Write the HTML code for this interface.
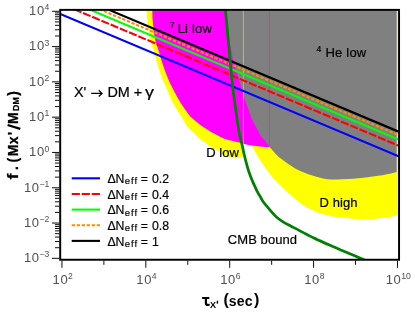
<!DOCTYPE html>
<html><head><meta charset="utf-8"><style>
html,body{margin:0;padding:0;background:#fff;}
svg{display:block;font-family:"Liberation Sans",sans-serif;will-change:transform;}
</style></head><body>
<svg width="415" height="316" viewBox="0 0 415 316">
<rect width="415" height="316" fill="#fff"/>
<defs><clipPath id="c"><rect x="60.2" y="9.87" width="338.85" height="249.88"/></clipPath></defs>
<g clip-path="url(#c)">
<path d="M146.5,9.9 C146.6,11.5 146.9,16.7 147.2,19.5 C147.4,22.3 147.6,24.3 148.0,26.7 C148.4,29.1 148.8,31.4 149.4,34.0 C150.0,36.6 150.6,39.9 151.3,42.6 C152.0,45.3 152.7,47.6 153.4,50.0 C154.1,52.4 154.9,54.8 155.6,57.2 C156.3,59.6 156.9,62.1 157.6,64.5 C158.3,66.9 159.0,69.3 159.8,71.7 C160.6,74.1 161.4,76.5 162.4,78.9 C163.4,81.3 164.7,83.9 165.6,86.1 C166.5,88.3 167.1,89.8 168.0,92.0 C168.9,94.2 170.2,96.8 171.3,99.2 C172.5,101.6 173.5,104.1 174.9,106.5 C176.3,108.9 178.0,111.3 179.5,113.7 C181.0,116.1 182.4,118.5 183.9,120.9 C185.4,123.3 186.7,125.9 188.6,128.1 C190.5,130.3 193.4,132.5 195.3,134.3 C197.2,136.1 198.5,137.6 200.2,139.0 C201.9,140.4 204.2,142.0 205.6,143.0 C206.9,144.0 206.8,144.0 208.3,145.0 C209.9,146.0 212.8,147.8 214.9,149.0 C217.0,150.2 218.6,150.9 221.0,152.2 C223.4,153.5 227.2,155.9 229.5,156.9 C231.8,157.9 233.1,158.0 234.8,158.2 C236.6,158.3 238.7,158.2 240.0,157.8 C241.3,157.4 242.0,156.6 242.7,155.5 C243.4,154.4 243.8,153.1 244.0,151.0 C244.2,148.9 244.0,144.3 244.0,143.0 L244.0,9.87 Z" fill="#ffff00"/>
<path d="M252.2,146.0 C252.9,147.4 254.8,151.5 256.6,154.6 C258.4,157.7 260.8,161.4 262.8,164.3 C264.8,167.2 266.5,169.7 268.5,172.2 C270.5,174.7 272.5,177.1 274.7,179.5 C276.9,181.9 279.0,184.3 281.5,186.7 C284.0,189.1 287.2,191.9 289.5,193.9 C291.8,195.9 292.9,196.9 295.0,198.7 C297.1,200.5 299.8,202.8 302.2,204.5 C304.6,206.2 307.1,207.6 309.5,208.8 C311.9,210.1 314.3,211.0 316.7,212.0 C319.1,213.0 321.5,213.9 323.9,214.6 C326.3,215.3 328.7,215.6 331.1,216.0 C333.5,216.4 336.0,216.9 338.4,217.2 C340.8,217.5 342.1,217.7 345.6,218.0 C349.1,218.3 354.8,219.2 359.5,219.3 C364.2,219.5 369.1,219.3 373.9,218.9 C378.7,218.5 384.9,217.5 388.4,217.0 C391.9,216.5 393.4,216.3 394.9,216.0 C396.4,215.7 397.0,215.3 397.4,215.2 L397.45,9.87 L252.2,9.87 Z" fill="#ffff00"/>
<path d="M152.3,9.9 C152.4,11.5 152.4,16.7 152.6,19.5 C152.8,22.3 153.1,24.3 153.3,26.7 C153.5,29.1 153.6,31.2 154.0,33.9 C154.4,36.5 155.2,39.9 155.9,42.6 C156.6,45.3 157.6,47.6 158.4,50.0 C159.2,52.4 159.8,54.8 160.5,57.2 C161.2,59.6 162.0,62.1 162.8,64.5 C163.6,66.9 164.4,69.3 165.3,71.7 C166.2,74.1 167.2,76.5 168.2,78.9 C169.2,81.3 170.4,83.9 171.5,86.1 C172.6,88.3 173.3,89.8 174.5,92.0 C175.7,94.2 177.1,96.8 178.5,99.2 C179.9,101.6 181.5,104.1 183.1,106.5 C184.7,108.9 186.9,111.9 188.2,113.7 C189.5,115.5 189.9,116.1 191.1,117.3 C192.3,118.5 193.9,119.7 195.4,120.9 C196.9,122.1 198.2,123.3 199.8,124.5 C201.4,125.7 203.0,126.9 204.8,128.1 C206.6,129.3 208.4,130.6 210.6,131.8 C212.8,133.0 215.4,134.2 217.8,135.4 C220.2,136.6 222.8,138.1 225.0,139.0 C227.2,139.9 228.2,139.9 230.8,140.6 C233.4,141.2 238.2,142.3 240.4,142.9 C242.7,143.5 242.1,143.5 244.3,144.0 C246.6,144.5 250.5,145.3 253.9,145.8 C257.4,146.3 262.4,146.7 265.0,146.9 C267.6,147.1 268.8,147.0 269.5,147.0 L269.5,9.87 Z" fill="#ff00ff"/>
<path d="M226.0,9.9 C226.4,14.1 227.4,28.3 228.3,35.0 C229.2,41.7 230.5,45.8 231.3,50.0 C232.2,54.2 232.1,55.1 233.4,60.0 C234.7,64.9 237.1,72.7 239.0,79.3 C240.9,85.9 243.3,94.6 244.9,99.6 C246.5,104.6 247.3,106.2 248.4,109.3 C249.5,112.4 250.2,115.0 251.5,118.0 C252.8,121.0 254.7,124.5 256.3,127.6 C257.9,130.7 259.8,134.3 261.2,136.5 C262.6,138.7 263.7,139.1 265.0,140.8 C266.3,142.5 267.4,144.3 269.2,146.5 C271.0,148.7 273.9,152.1 275.7,154.0 C277.5,155.9 278.5,156.8 280.1,158.1 C281.7,159.4 283.4,160.5 285.1,161.7 C286.8,162.9 288.4,164.1 290.2,165.3 C292.0,166.5 293.7,167.7 296.0,168.9 C298.3,170.1 300.9,171.3 303.9,172.5 C306.9,173.7 311.0,175.2 314.0,176.1 C317.0,177.0 320.0,177.7 322.0,178.2 C324.0,178.7 323.4,178.7 325.8,178.9 C328.2,179.1 333.1,179.5 336.7,179.5 C340.3,179.5 343.9,179.3 347.5,179.1 C351.1,178.9 354.8,178.6 358.4,178.2 C362.0,177.8 365.6,177.3 369.2,176.9 C372.8,176.5 376.4,176.2 380.0,175.6 C383.6,175.0 388.1,174.0 390.9,173.4 C393.7,172.8 396.0,172.2 397.0,172.0 L397.0,9.87 Z" fill="#808080"/>
<line x1="243.4" y1="9.87" x2="243.4" y2="144.5" stroke="#ffff00" stroke-width="1" opacity="0.5"/>
<line x1="397.35" y1="9.87" x2="397.35" y2="215.6" stroke="#f0eea6" stroke-width="1.3"/>
<line x1="269.4" y1="9.87" x2="269.4" y2="146.8" stroke="#ff00ff" stroke-width="0.9" opacity="0.6"/>
<line x1="58.20" y1="13.12" x2="401.05" y2="157.37" stroke="#0000ff" stroke-width="2.1"/>
<line x1="58.20" y1="2.50" x2="401.05" y2="146.75" stroke="#ff0000" stroke-width="2.1" stroke-dasharray="8.2 1.8" stroke-dashoffset="3.1"/>
<line x1="58.20" y1="-3.72" x2="401.05" y2="140.53" stroke="#00ff00" stroke-width="2.1"/>
<line x1="58.20" y1="-8.13" x2="401.05" y2="136.12" stroke="#ff8c00" stroke-width="2.1" stroke-dasharray="3.3 1.7" stroke-dashoffset="0.5"/>
<line x1="58.20" y1="-11.55" x2="401.05" y2="132.70" stroke="#000000" stroke-width="2.1"/>

<path d="M225.3,8.9 C225.7,13.2 227.0,26.5 227.8,35.0 C228.6,43.5 229.2,50.8 230.1,60.0 C231.0,69.2 231.9,80.2 233.1,90.0 C234.3,99.8 236.0,111.8 237.1,119.0 C238.1,126.2 238.5,128.7 239.3,133.0 C240.1,137.3 241.3,141.4 242.1,145.0 C242.9,148.6 243.4,151.4 244.2,154.6 C245.0,157.8 245.8,161.2 246.7,164.3 C247.5,167.4 248.3,170.1 249.3,173.0 C250.3,175.9 251.4,178.5 252.7,181.6 C254.0,184.7 255.9,188.6 257.2,191.3 C258.6,194.0 260.0,196.2 261.0,198.0 C262.0,199.8 262.2,200.5 263.3,202.0 C264.4,203.5 266.2,205.5 267.6,207.2 C269.0,208.8 270.1,210.2 271.6,211.9 C273.1,213.6 274.7,215.6 276.7,217.3 C278.7,219.0 281.1,220.7 283.4,222.1 C285.7,223.5 288.0,224.6 290.7,226.0 C293.4,227.4 295.6,228.6 299.5,230.6 C303.4,232.6 309.1,235.8 313.9,238.1 C318.7,240.4 323.7,242.5 328.4,244.6 C333.1,246.7 337.7,248.6 342.0,250.4 C346.3,252.2 350.5,254.0 354.1,255.5 C357.7,257.0 360.9,258.4 363.5,259.6 C366.1,260.7 368.9,261.8 370.0,262.3" fill="none" stroke="#008000" stroke-width="2.75"/>
</g>
<g font-size="13" fill="#000" stroke="#000" stroke-width="0.2">
<text x="177.6" y="32.7"><tspan dx="-7.9" dy="-5" font-size="8.6">7</tspan><tspan dy="5" dx="3.2" letter-spacing="0.2">Li low</tspan></text>
<text x="325.5" y="56.9"><tspan dx="-9" dy="-5" font-size="8.6">4</tspan><tspan dy="5" dx="4.2" letter-spacing="0.2">He low</tspan></text>
<text x="206.3" y="157">D low</text>
<text x="319.4" y="207.3" letter-spacing="0.12">D high</text>
<text x="227.8" y="243.7" letter-spacing="0.08">CMB bound</text>
<text y="97.2" font-size="14.4"><tspan x="74">X'</tspan><tspan x="107.4">DM</tspan><tspan x="133.7">+</tspan></text>
<text transform="translate(145.0,97.2) scale(1.25,1)" font-size="14.4">γ</text>
<path d="M91.2 93.4H101.8M98.7 90.3L102.1 93.4L98.7 96.5" fill="none" stroke="#000" stroke-width="1.2"/>
</g>
<g fill="#000" stroke="#000" stroke-width="0.18">
<line x1="71.7" y1="178.30" x2="100" y2="178.30" stroke="#0000ff" stroke-width="2.1"/>
<text x="107.4" y="182.90" font-size="12.3">ΔN<tspan x="124.7" dy="1.4" font-size="9.5" letter-spacing="1.05">eff</tspan><tspan x="140.7" dy="-1.4">=</tspan><tspan x="151.9">0.2</tspan></text>
<line x1="71.7" y1="193.95" x2="100" y2="193.95" stroke="#ff0000" stroke-width="2.1" stroke-dasharray="8.2 1.8"/>
<text x="107.4" y="198.55" font-size="12.3">ΔN<tspan x="124.7" dy="1.4" font-size="9.5" letter-spacing="1.05">eff</tspan><tspan x="140.7" dy="-1.4">=</tspan><tspan x="151.9">0.4</tspan></text>
<line x1="71.7" y1="209.60" x2="100" y2="209.60" stroke="#00ff00" stroke-width="2.1"/>
<text x="107.4" y="214.20" font-size="12.3">ΔN<tspan x="124.7" dy="1.4" font-size="9.5" letter-spacing="1.05">eff</tspan><tspan x="140.7" dy="-1.4">=</tspan><tspan x="151.9">0.6</tspan></text>
<line x1="71.7" y1="225.25" x2="100" y2="225.25" stroke="#ff8c00" stroke-width="2.1" stroke-dasharray="3.3 1.7"/>
<text x="107.4" y="229.85" font-size="12.3">ΔN<tspan x="124.7" dy="1.4" font-size="9.5" letter-spacing="1.05">eff</tspan><tspan x="140.7" dy="-1.4">=</tspan><tspan x="151.9">0.8</tspan></text>
<line x1="71.7" y1="240.90" x2="100" y2="240.90" stroke="#000000" stroke-width="2.1"/>
<text x="107.4" y="245.50" font-size="12.3">ΔN<tspan x="124.7" dy="1.4" font-size="9.5" letter-spacing="1.05">eff</tspan><tspan x="140.7" dy="-1.4">=</tspan><tspan x="151.9">1</tspan></text>

</g>
<rect x="60.2" y="9.87" width="338.85" height="249.88" fill="none" stroke="#000" stroke-width="1.95"/>
<g stroke="#000" stroke-width="0.95">
<line x1="61.95" y1="260.65" x2="61.95" y2="267.80"/>
<line x1="103.89" y1="260.65" x2="103.89" y2="264.80"/>
<line x1="145.83" y1="260.65" x2="145.83" y2="267.80"/>
<line x1="187.77" y1="260.65" x2="187.77" y2="264.80"/>
<line x1="229.71" y1="260.65" x2="229.71" y2="267.80"/>
<line x1="271.65" y1="260.65" x2="271.65" y2="264.80"/>
<line x1="313.59" y1="260.65" x2="313.59" y2="267.80"/>
<line x1="355.53" y1="260.65" x2="355.53" y2="264.80"/>
<line x1="397.47" y1="260.65" x2="397.47" y2="267.80"/>
<line x1="59.30" y1="258.33" x2="52.0" y2="258.33"/>
<line x1="59.30" y1="247.71" x2="55.0" y2="247.71"/>
<line x1="59.30" y1="241.49" x2="55.0" y2="241.49"/>
<line x1="59.30" y1="237.08" x2="55.0" y2="237.08"/>
<line x1="59.30" y1="233.66" x2="55.0" y2="233.66"/>
<line x1="59.30" y1="230.87" x2="55.0" y2="230.87"/>
<line x1="59.30" y1="228.51" x2="55.0" y2="228.51"/>
<line x1="59.30" y1="226.46" x2="55.0" y2="226.46"/>
<line x1="59.30" y1="224.65" x2="55.0" y2="224.65"/>
<line x1="59.30" y1="223.04" x2="52.0" y2="223.04"/>
<line x1="59.30" y1="212.42" x2="55.0" y2="212.42"/>
<line x1="59.30" y1="206.20" x2="55.0" y2="206.20"/>
<line x1="59.30" y1="201.79" x2="55.0" y2="201.79"/>
<line x1="59.30" y1="198.37" x2="55.0" y2="198.37"/>
<line x1="59.30" y1="195.58" x2="55.0" y2="195.58"/>
<line x1="59.30" y1="193.22" x2="55.0" y2="193.22"/>
<line x1="59.30" y1="191.17" x2="55.0" y2="191.17"/>
<line x1="59.30" y1="189.36" x2="55.0" y2="189.36"/>
<line x1="59.30" y1="187.75" x2="52.0" y2="187.75"/>
<line x1="59.30" y1="177.13" x2="55.0" y2="177.13"/>
<line x1="59.30" y1="170.91" x2="55.0" y2="170.91"/>
<line x1="59.30" y1="166.50" x2="55.0" y2="166.50"/>
<line x1="59.30" y1="163.08" x2="55.0" y2="163.08"/>
<line x1="59.30" y1="160.29" x2="55.0" y2="160.29"/>
<line x1="59.30" y1="157.93" x2="55.0" y2="157.93"/>
<line x1="59.30" y1="155.88" x2="55.0" y2="155.88"/>
<line x1="59.30" y1="154.07" x2="55.0" y2="154.07"/>
<line x1="59.30" y1="152.46" x2="52.0" y2="152.46"/>
<line x1="59.30" y1="141.84" x2="55.0" y2="141.84"/>
<line x1="59.30" y1="135.62" x2="55.0" y2="135.62"/>
<line x1="59.30" y1="131.21" x2="55.0" y2="131.21"/>
<line x1="59.30" y1="127.79" x2="55.0" y2="127.79"/>
<line x1="59.30" y1="125.00" x2="55.0" y2="125.00"/>
<line x1="59.30" y1="122.64" x2="55.0" y2="122.64"/>
<line x1="59.30" y1="120.59" x2="55.0" y2="120.59"/>
<line x1="59.30" y1="118.78" x2="55.0" y2="118.78"/>
<line x1="59.30" y1="117.17" x2="52.0" y2="117.17"/>
<line x1="59.30" y1="106.55" x2="55.0" y2="106.55"/>
<line x1="59.30" y1="100.33" x2="55.0" y2="100.33"/>
<line x1="59.30" y1="95.92" x2="55.0" y2="95.92"/>
<line x1="59.30" y1="92.50" x2="55.0" y2="92.50"/>
<line x1="59.30" y1="89.71" x2="55.0" y2="89.71"/>
<line x1="59.30" y1="87.35" x2="55.0" y2="87.35"/>
<line x1="59.30" y1="85.30" x2="55.0" y2="85.30"/>
<line x1="59.30" y1="83.49" x2="55.0" y2="83.49"/>
<line x1="59.30" y1="81.88" x2="52.0" y2="81.88"/>
<line x1="59.30" y1="71.26" x2="55.0" y2="71.26"/>
<line x1="59.30" y1="65.04" x2="55.0" y2="65.04"/>
<line x1="59.30" y1="60.63" x2="55.0" y2="60.63"/>
<line x1="59.30" y1="57.21" x2="55.0" y2="57.21"/>
<line x1="59.30" y1="54.42" x2="55.0" y2="54.42"/>
<line x1="59.30" y1="52.06" x2="55.0" y2="52.06"/>
<line x1="59.30" y1="50.01" x2="55.0" y2="50.01"/>
<line x1="59.30" y1="48.20" x2="55.0" y2="48.20"/>
<line x1="59.30" y1="46.59" x2="52.0" y2="46.59"/>
<line x1="59.30" y1="35.97" x2="55.0" y2="35.97"/>
<line x1="59.30" y1="29.75" x2="55.0" y2="29.75"/>
<line x1="59.30" y1="25.34" x2="55.0" y2="25.34"/>
<line x1="59.30" y1="21.92" x2="55.0" y2="21.92"/>
<line x1="59.30" y1="19.13" x2="55.0" y2="19.13"/>
<line x1="59.30" y1="16.77" x2="55.0" y2="16.77"/>
<line x1="59.30" y1="14.72" x2="55.0" y2="14.72"/>
<line x1="59.30" y1="12.91" x2="55.0" y2="12.91"/>
<line x1="59.30" y1="11.30" x2="52.0" y2="11.30"/>

</g>
<g font-size="13" fill="#505050">
<text x="62.7" y="284.4" text-anchor="middle" letter-spacing="0.6">10<tspan dx="-0.2" dy="-5.2" font-size="8.6" letter-spacing="0">2</tspan></text>
<text x="146.5" y="284.4" text-anchor="middle" letter-spacing="0.6">10<tspan dx="-0.2" dy="-5.2" font-size="8.6" letter-spacing="0">4</tspan></text>
<text x="230.4" y="284.4" text-anchor="middle" letter-spacing="0.6">10<tspan dx="-0.2" dy="-5.2" font-size="8.6" letter-spacing="0">6</tspan></text>
<text x="314.3" y="284.4" text-anchor="middle" letter-spacing="0.6">10<tspan dx="-0.2" dy="-5.2" font-size="8.6" letter-spacing="0">8</tspan></text>
<text x="398.2" y="284.4" text-anchor="middle" letter-spacing="0.6">10<tspan dx="-0.2" dy="-5.2" font-size="8.6" letter-spacing="0">10</tspan></text>
<text x="49.2" y="262.1" text-anchor="end" letter-spacing="0.6">10<tspan dx="-0.3" dy="-4.8" font-size="8.6" letter-spacing="0">−3</tspan></text>
<text x="49.2" y="226.8" text-anchor="end" letter-spacing="0.6">10<tspan dx="-0.3" dy="-4.8" font-size="8.6" letter-spacing="0">−2</tspan></text>
<text x="49.2" y="191.6" text-anchor="end" letter-spacing="0.6">10<tspan dx="-0.3" dy="-4.8" font-size="8.6" letter-spacing="0">−1</tspan></text>
<text x="49.2" y="156.3" text-anchor="end" letter-spacing="0.6">10<tspan dx="-0.3" dy="-4.8" font-size="8.6" letter-spacing="0">0</tspan></text>
<text x="49.2" y="121.0" text-anchor="end" letter-spacing="0.6">10<tspan dx="-0.3" dy="-4.8" font-size="8.6" letter-spacing="0">1</tspan></text>
<text x="49.2" y="85.7" text-anchor="end" letter-spacing="0.6">10<tspan dx="-0.3" dy="-4.8" font-size="8.6" letter-spacing="0">2</tspan></text>
<text x="49.2" y="50.4" text-anchor="end" letter-spacing="0.6">10<tspan dx="-0.3" dy="-4.8" font-size="8.6" letter-spacing="0">3</tspan></text>
<text x="49.2" y="15.1" text-anchor="end" letter-spacing="0.6">10<tspan dx="-0.3" dy="-4.8" font-size="8.6" letter-spacing="0">4</tspan></text>

</g>
<path d="M202.1 296.9H209.3V299.0H207.0V302.7Q207.0 303.9 208.2 303.9Q208.9 303.9 209.5 303.6L209.8 305.5Q208.8 306 207.6 306Q204.8 306 204.8 302.9V299.0H202.1Z" fill="#000"/>
<text x="209.9" y="307.8" font-size="9" font-weight="bold">X</text>
<line x1="217.5" y1="300.7" x2="217.3" y2="303.6" stroke="#000" stroke-width="1.4"/>
<text x="223.6" y="304.5" font-size="16" font-weight="bold">(</text>
<text x="228.7" y="306" font-size="14" font-weight="bold" letter-spacing="0.3">sec</text>
<text x="253.9" y="304.5" font-size="16" font-weight="bold">)</text>
<text transform="translate(17.8,179.4) rotate(-90)" font-size="14" font-weight="bold" stroke="#000" stroke-width="0.25"><tspan x="9.3">.</tspan><tspan x="16.8">(</tspan><tspan x="23.1">M</tspan><tspan x="35.2">x</tspan><tspan x="44.1">'</tspan><tspan x="55.4">M</tspan><tspan x="68.5" dy="1.5" font-size="8.8">DM</tspan><tspan x="83.6" dy="-1.5">)</tspan></text>
<text transform="translate(17.8,179.4) rotate(-90) scale(1.3,1)" font-size="14" font-weight="bold" stroke="#000" stroke-width="0.25" x="-0.1" y="0">f</text>
<line transform="translate(17.8,179.4) rotate(-90)" x1="50.5" y1="2.5" x2="54.4" y2="-10.2" stroke="#000" stroke-width="2.2"/>
</svg>
</body></html>
